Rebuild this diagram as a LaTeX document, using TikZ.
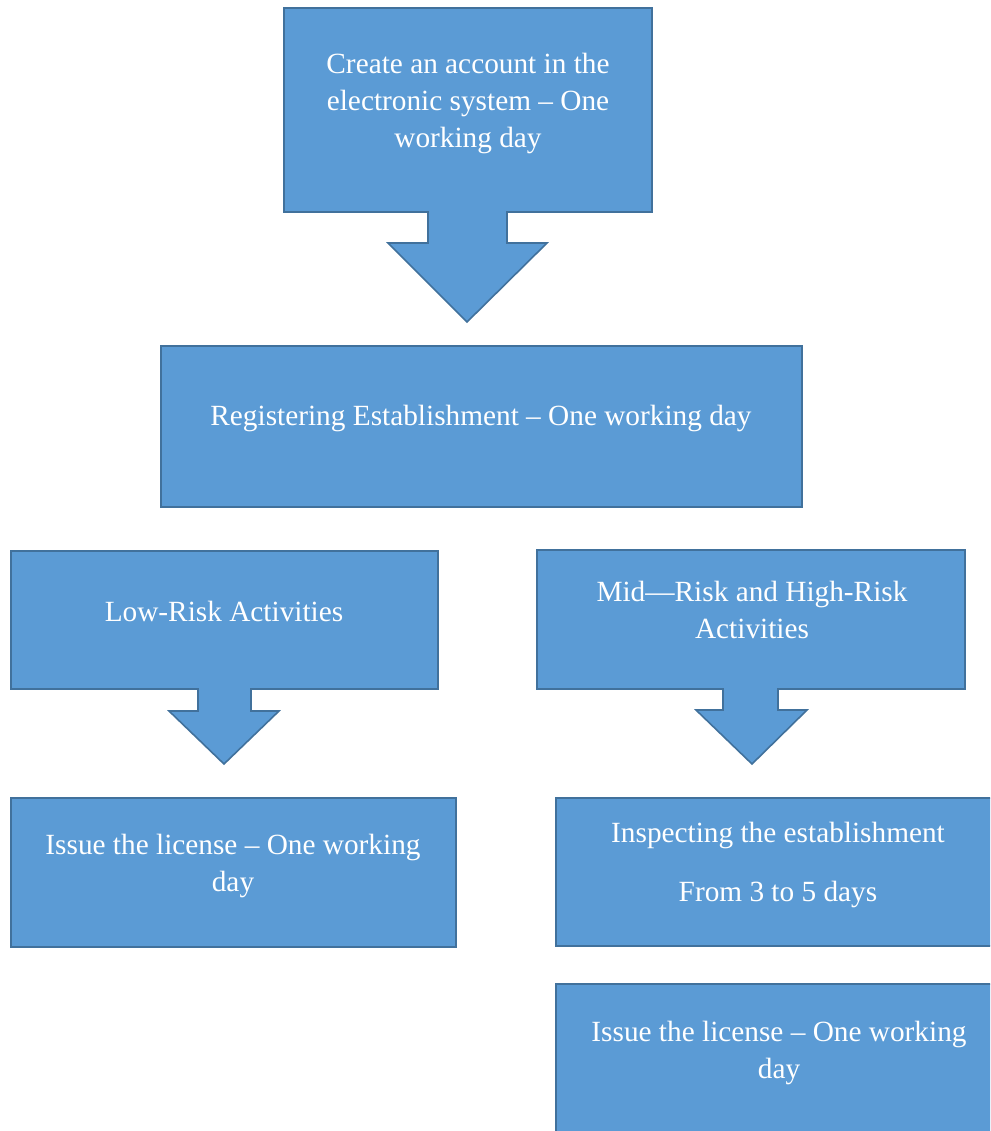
\documentclass[tikz,border=0pt]{standalone}
\usepackage{fontspec}
\setmainfont{Liberation Serif}
\definecolor{boxblue}{HTML}{5B9BD5}
\definecolor{boxedge}{HTML}{41719C}
\tikzset{
  shapebox/.style={fill=boxblue, draw=boxedge, line width=1.6pt, line join=miter},
  lbl/.style={text=white, font=\fontsize{29.3}{37}\selectfont, align=center, inner sep=0pt}
}
\begin{document}
\begin{tikzpicture}[x=1pt,y=-1pt]
\useasboundingbox (0,0) rectangle (990,1131);
\clip (0,0) rectangle (990,1131);
% callout 1
\draw[shapebox] (284,8) -- (652,8) -- (652,212) -- (507,212) -- (507,243) -- (547,243)
  -- (467,322) -- (388,243) -- (428,243) -- (428,212) -- (284,212) -- cycle;
\node[lbl] (create) at (468,103) {Create an account in the\\electronic system -- One\\working day};
% box 2
\draw[shapebox] (161,346) rectangle (802,507);
\node[lbl] (reg) at (481,418) {Registering Establishment -- One working day};
% callout low
\draw[shapebox] (11,551) -- (438,551) -- (438,689) -- (251,689) -- (251,711) -- (279,711)
  -- (224,764) -- (169,711) -- (198,711) -- (198,689) -- (11,689) -- cycle;
\node[lbl] (low) at (224,611) {Low-Risk Activities};
% box issue left
\draw[shapebox] (11,798) rectangle (456,947);
\node[lbl] (issueL) at (233,866) {Issue the license -- One working\\day};
% callout mid
\draw[shapebox] (537,550) -- (965,550) -- (965,689) -- (778,689) -- (778,710) -- (807,710)
  -- (752,764) -- (696,710) -- (723,710) -- (723,689) -- (537,689) -- cycle;
\node[lbl] (mid) at (752,610) {Mid---Risk and High-Risk\\Activities};
% box inspecting
\draw[shapebox] (556,798) rectangle (1001,946);
\node[lbl] (insp) at (778,865) {Inspecting the establishment\\[22pt]From 3 to 5 days};
% box issue right
\draw[shapebox] (556,984) rectangle (1003,1145);
\node[lbl] (issueR) at (779,1053) {Issue the license -- One working\\day};
\end{tikzpicture}
\end{document}
